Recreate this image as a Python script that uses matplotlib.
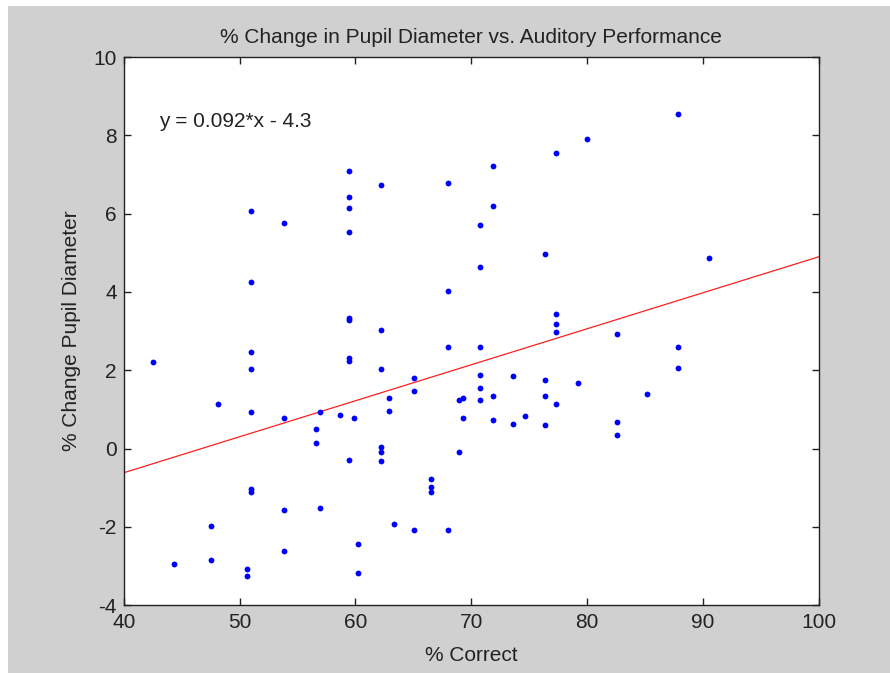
import numpy as np
import matplotlib
matplotlib.use("Agg")
import matplotlib.pyplot as plt
from matplotlib.patches import Rectangle

# Percent correct (x) and percent change in pupil diameter (y)
pct_correct = [
    42.5, 44.35, 47.55, 47.55, 48.1, 50.65, 50.65,
    51.0, 51.0, 51.0, 51.0, 51.0, 51.0, 51.0,
    53.85, 53.85, 53.85, 53.85, 56.6, 56.6, 56.95, 56.95, 58.7,
    59.45, 59.45, 59.45, 59.45, 59.45, 59.45, 59.45, 59.45, 59.45,
    59.9, 60.2, 60.2,
    62.2, 62.2, 62.2, 62.2, 62.2, 62.2, 62.9, 62.9, 63.3,
    65.1, 65.1, 65.1, 66.5, 66.5, 66.5,
    68.0, 68.0, 68.0, 68.0, 68.9, 68.9, 69.25, 69.25,
    70.75, 70.75, 70.75, 70.75, 70.75, 70.75,
    71.9, 71.9, 71.9, 71.9, 73.6, 73.6, 74.65,
    76.4, 76.4, 76.4, 76.4, 77.3, 77.3, 77.3, 77.3, 77.3,
    79.25, 79.95, 82.6, 82.6, 82.6, 85.2, 87.85, 87.85, 87.85, 90.5,
]
pupil_change = [
    2.22, -2.95, -1.99, -2.85, 1.13, -3.08, -3.25,
    6.06, 4.26, 2.46, 2.02, 0.94, -1.04, -1.10,
    5.76, 0.79, -1.56, -2.61, 0.49, 0.15, 0.94, -1.52, 0.86,
    7.08, 6.44, 6.14, 5.53, 3.34, 3.28, 2.32, 2.24, -0.30,
    0.79, -2.44, -3.19,
    6.74, 3.04, 2.02, 0.04, -0.09, -0.33, 1.30, 0.96, -1.93,
    1.81, 1.47, -2.07, -0.77, -0.98, -1.11,
    6.78, 4.02, 2.59, -2.07, 1.23, -0.09, 1.30, 0.79,
    5.72, 4.64, 2.59, 1.88, 1.54, 1.23,
    7.22, 6.20, 1.34, 0.72, 1.85, 0.62, 0.83,
    4.97, 1.74, 1.34, 0.59, 7.56, 3.44, 3.17, 2.97, 1.13,
    1.68, 7.90, 2.93, 0.69, 0.35, 1.40, 8.55, 2.59, 2.05, 4.87,
]

# Fitted line as printed on the chart
slope, intercept = 0.092, -4.3
fit_label = "y = 0.092*x - 4.3"

x_ticks = [40, 50, 60, 70, 80, 90, 100]
y_ticks = [-4, -2, 0, 2, 4, 6, 8, 10]

plt.rcParams['font.family'] = ['Liberation Sans', 'DejaVu Sans']
plt.rcParams['axes.unicode_minus'] = False
bg = '#d0d0d0'
fs = 15

fig = plt.figure(figsize=(8.9, 6.73), dpi=100, facecolor='white')
# grey panel, leaving the thin white strip at top and left
fig.patches.append(Rectangle((8 / 890, 0), 1, 1 - 6 / 673, transform=fig.transFigure,
                             facecolor=bg, edgecolor='none', zorder=-10))

ax = fig.add_axes([0.139, 0.101, 0.781, 0.814])
ax.set_facecolor('white')

xs = np.array([40, 100])
ax.plot(xs, slope * xs + intercept, color='#ff2020', linewidth=0.9, zorder=2)
ax.plot(pct_correct, pupil_change, 'o', color='#0000ff', markersize=4.2,
        markeredgewidth=0, zorder=3)

ax.text(43.07, 8.35, fit_label, fontsize=fs, va='center', ha='left', color='#222222')

ax.set_xlim(40, 100)
ax.set_ylim(-4, 10)
ax.set_xticks(x_ticks)
ax.set_yticks(y_ticks)
ax.tick_params(direction='in', length=5, width=1, top=True, right=True,
               labelsize=fs, colors='#222222', labelcolor='#222222')
ax.tick_params(axis='x', pad=6)
ax.tick_params(axis='y', pad=5)
for s in ax.spines.values():
    s.set_linewidth(1.0)
    s.set_color('#222222')

ax.set_title("% Change in Pupil Diameter vs. Auditory Performance", fontsize=fs,
             color='#222222', pad=10)
ax.set_xlabel("% Correct", fontsize=fs, color='#222222', labelpad=10)
ax.set_ylabel("% Change Pupil Diameter", fontsize=fs, color='#222222', labelpad=9)

fig.savefig("out.png", dpi=100, facecolor=fig.get_facecolor())
